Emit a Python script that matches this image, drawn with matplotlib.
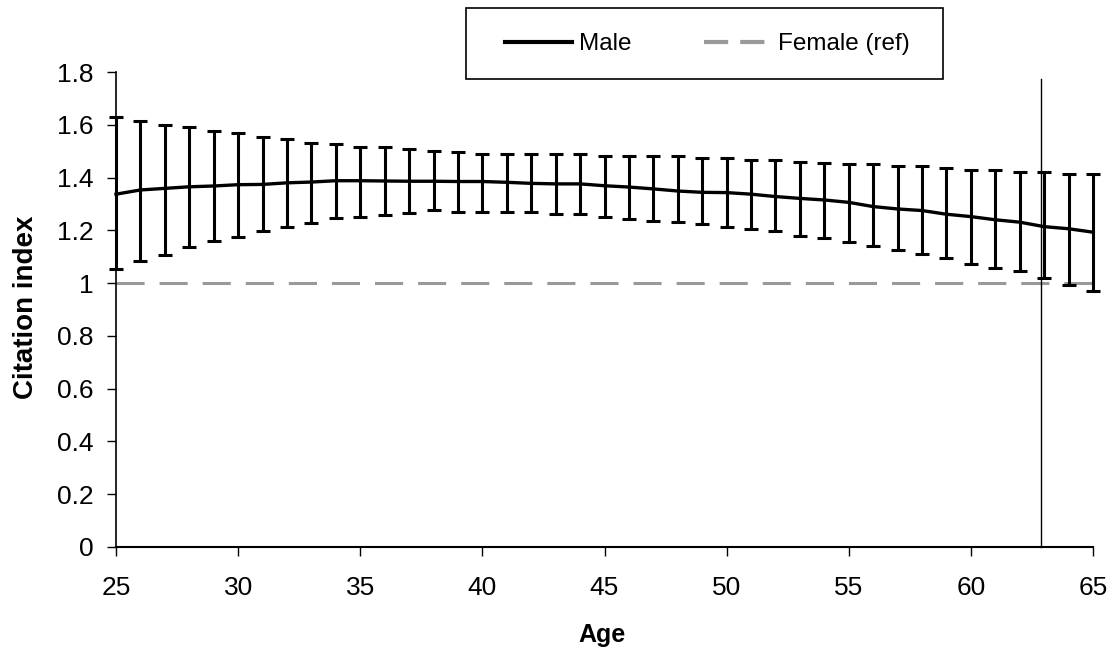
import matplotlib
matplotlib.use("Agg")
import matplotlib.pyplot as plt
from matplotlib.lines import Line2D
from matplotlib.patches import Rectangle
import numpy as np

plt.rcParams['font.family'] = ['Liberation Sans', 'DejaVu Sans']

ages = list(range(25, 66))
male = [1.337, 1.353, 1.359, 1.365, 1.368, 1.373, 1.374, 1.380, 1.383, 1.388,
        1.388, 1.387, 1.386, 1.386, 1.385, 1.385, 1.382, 1.378, 1.376, 1.376,
        1.369, 1.364, 1.357, 1.349, 1.344, 1.343, 1.337, 1.328, 1.321, 1.315,
        1.306, 1.290, 1.281, 1.275, 1.261, 1.252, 1.240, 1.231, 1.214, 1.206,
        1.193]
upper = [1.630, 1.615, 1.600, 1.593, 1.578, 1.570, 1.555, 1.547, 1.532, 1.526,
         1.517, 1.517, 1.509, 1.502, 1.495, 1.488, 1.488, 1.488, 1.488, 1.488,
         1.483, 1.480, 1.480, 1.480, 1.475, 1.475, 1.468, 1.465, 1.460, 1.457,
         1.453, 1.450, 1.445, 1.445, 1.437, 1.427, 1.427, 1.420, 1.420, 1.412,
         1.412]
lower = [1.052, 1.084, 1.106, 1.138, 1.160, 1.176, 1.197, 1.214, 1.229, 1.245,
         1.252, 1.258, 1.267, 1.277, 1.271, 1.268, 1.268, 1.268, 1.262, 1.262,
         1.252, 1.243, 1.236, 1.231, 1.223, 1.214, 1.206, 1.196, 1.177, 1.170,
         1.155, 1.139, 1.125, 1.110, 1.095, 1.072, 1.057, 1.044, 1.019, 0.994,
         0.971]
female_ref = 1.0
marker_age = 62.86
marker_top = 1.775

x_ticks = [25, 30, 35, 40, 45, 50, 55, 60, 65]
y_ticks = [0, 0.2, 0.4, 0.6, 0.8, 1.0, 1.2, 1.4, 1.6, 1.8]
y_labels = ['0', '0.2', '0.4', '0.6', '0.8', '1', '1.2', '1.4', '1.6', '1.8']
legend_labels = ['Male', 'Female (ref)']

W, H = 1113, 652
fig = plt.figure(figsize=(W / 100, H / 100), dpi=100)
ax = fig.add_axes([116 / W, (H - 547) / H, (1093 - 116) / W, (547 - 72) / H])

a = np.array(ages)
m = np.array(male)
err = [m - np.array(lower), np.array(upper) - m]

ax.plot([ages[0], ages[-1]], [female_ref, female_ref], color='#999999',
        lw=2.2, dashes=(9.2, 4.9), zorder=2, clip_on=False)
ax.errorbar(a, m, yerr=err, fmt='none', ecolor='black', elinewidth=2.2,
            capsize=5, capthick=2.2, zorder=3, clip_on=False)
ax.plot(a, m, color='black', lw=2.4, zorder=4, clip_on=False)
ax.plot([marker_age, marker_age], [0, marker_top], color='black', lw=1.0,
        zorder=5, clip_on=False)

ax.set_xlim(25, 65)
ax.set_ylim(0, 1.8)
ax.set_xticks(x_ticks)
ax.set_yticks(y_ticks)
ax.set_yticklabels(y_labels)
ax.tick_params(axis='both', labelsize=19, direction='out', length=6.5,
               width=1.0, colors='black')
ax.tick_params(axis='x', pad=14.5)
ax.tick_params(axis='y', pad=9.5)
for s in ['top', 'right']:
    ax.spines[s].set_visible(False)
ax.spines['left'].set_linewidth(1.2)
ax.spines['bottom'].set_linewidth(1.5)

ax.set_xlabel('Age', fontsize=18, fontweight='bold')
ax.set_ylabel('Citation index', fontsize=20, fontweight='bold')
ax.xaxis.set_label_coords(0.497, -0.16)
ax.yaxis.set_label_coords(-0.079, 0.505)

# legend: frame drawn as a rectangle, content centred inside
fig.patches.append(Rectangle((466 / W, 1 - 79 / H), 477 / W, 71 / H,
                             transform=fig.transFigure, fill=False,
                             edgecolor='black', linewidth=1.2))
h_male = Line2D([], [], color='black', lw=3.0)
h_fem = Line2D([], [], color='#999999', lw=3.0, dashes=(5.8, 2.9))
leg = fig.legend([h_male, h_fem], legend_labels, ncol=2, fontsize=17.5,
                 loc='center', bbox_to_anchor=(707.5 / W, 1 - 44 / H),
                 frameon=False, handlelength=2.75, columnspacing=3.0,
                 borderpad=0, borderaxespad=0, handletextpad=0.29)

fig.savefig('out.png', dpi=100)
